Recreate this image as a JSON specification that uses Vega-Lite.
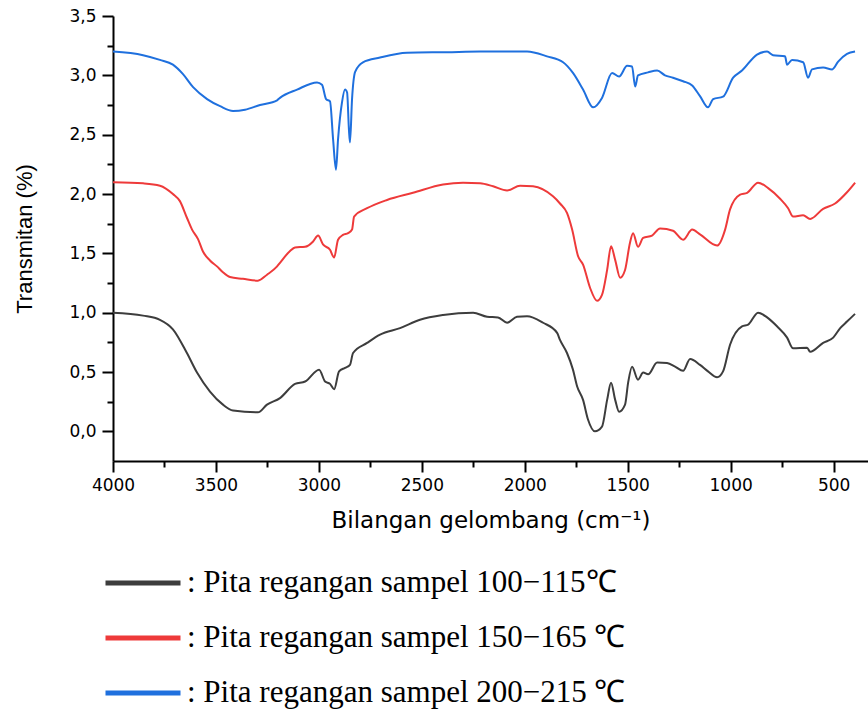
{
  "$schema": "https://vega.github.io/schema/vega-lite/v6.json",
  "width": 755,
  "height": 445,
  "autosize": {"type": "none"},
  "padding": {"left": 113, "top": 16, "right": 0, "bottom": 250},
  "background": "white",
  "config": {"view": {"stroke": null}, "font": "DejaVu Sans"},
  "data": {"values": [
    {"sampel":"200−215","wn":4000,"t":3.20},{"sampel":"200−215","wn":3854,"t":3.17},{"sampel":"200−215","wn":3772,"t":3.13},{"sampel":"200−215","wn":3709,"t":3.09},{"sampel":"200−215","wn":3660,"t":3.01},{"sampel":"200−215","wn":3611,"t":2.90},{"sampel":"200−215","wn":3543,"t":2.80},{"sampel":"200−215","wn":3480,"t":2.74},{"sampel":"200−215","wn":3417,"t":2.70},{"sampel":"200−215","wn":3359,"t":2.71},{"sampel":"200−215","wn":3286,"t":2.75},{"sampel":"200−215","wn":3203,"t":2.79},{"sampel":"200−215","wn":3189,"t":2.81},{"sampel":"200−215","wn":3106,"t":2.88},{"sampel":"200−215","wn":3009,"t":2.94},{"sampel":"200−215","wn":2985,"t":2.92},{"sampel":"200−215","wn":2965,"t":2.80},{"sampel":"200−215","wn":2946,"t":2.78},{"sampel":"200−215","wn":2931,"t":2.46},{"sampel":"200−215","wn":2917,"t":2.205},{"sampel":"200−215","wn":2907,"t":2.46},{"sampel":"200−215","wn":2888,"t":2.77},{"sampel":"200−215","wn":2873,"t":2.88},{"sampel":"200−215","wn":2863,"t":2.855},{"sampel":"200−215","wn":2854,"t":2.54},{"sampel":"200−215","wn":2849,"t":2.435},{"sampel":"200−215","wn":2839,"t":2.80},{"sampel":"200−215","wn":2824,"t":3.03},{"sampel":"200−215","wn":2786,"t":3.11},{"sampel":"200−215","wn":2703,"t":3.15},{"sampel":"200−215","wn":2572,"t":3.19},{"sampel":"200−215","wn":2378,"t":3.195},{"sampel":"200−215","wn":2217,"t":3.20},{"sampel":"200−215","wn":1989,"t":3.20},{"sampel":"200−215","wn":1892,"t":3.16},{"sampel":"200−215","wn":1814,"t":3.11},{"sampel":"200−215","wn":1766,"t":3.02},{"sampel":"200−215","wn":1717,"t":2.88},{"sampel":"200−215","wn":1668,"t":2.73},{"sampel":"200−215","wn":1625,"t":2.81},{"sampel":"200−215","wn":1576,"t":3.02},{"sampel":"200−215","wn":1542,"t":2.99},{"sampel":"200−215","wn":1503,"t":3.08},{"sampel":"200−215","wn":1479,"t":3.075},{"sampel":"200−215","wn":1464,"t":2.905},{"sampel":"200−215","wn":1450,"t":3.00},{"sampel":"200−215","wn":1401,"t":3.025},{"sampel":"200−215","wn":1357,"t":3.04},{"sampel":"200−215","wn":1319,"t":3.00},{"sampel":"200−215","wn":1280,"t":2.98},{"sampel":"200−215","wn":1231,"t":2.95},{"sampel":"200−215","wn":1187,"t":2.915},{"sampel":"200−215","wn":1149,"t":2.825},{"sampel":"200−215","wn":1110,"t":2.73},{"sampel":"200−215","wn":1085,"t":2.80},{"sampel":"200−215","wn":1037,"t":2.82},{"sampel":"200−215","wn":988,"t":2.98},{"sampel":"200−215","wn":945,"t":3.04},{"sampel":"200−215","wn":872,"t":3.175},{"sampel":"200−215","wn":823,"t":3.20},{"sampel":"200−215","wn":794,"t":3.17},{"sampel":"200−215","wn":736,"t":3.16},{"sampel":"200−215","wn":726,"t":3.09},{"sampel":"200−215","wn":702,"t":3.13},{"sampel":"200−215","wn":648,"t":3.11},{"sampel":"200−215","wn":624,"t":2.98},{"sampel":"200−215","wn":605,"t":3.05},{"sampel":"200−215","wn":551,"t":3.065},{"sampel":"200−215","wn":507,"t":3.05},{"sampel":"200−215","wn":478,"t":3.115},{"sampel":"200−215","wn":435,"t":3.18},{"sampel":"200−215","wn":396,"t":3.20},
    {"sampel":"150−165","wn":4000,"t":2.10},{"sampel":"150−165","wn":3854,"t":2.09},{"sampel":"150−165","wn":3772,"t":2.07},{"sampel":"150−165","wn":3709,"t":2.00},{"sampel":"150−165","wn":3675,"t":1.94},{"sampel":"150−165","wn":3641,"t":1.80},{"sampel":"150−165","wn":3616,"t":1.70},{"sampel":"150−165","wn":3587,"t":1.62},{"sampel":"150−165","wn":3563,"t":1.515},{"sampel":"150−165","wn":3529,"t":1.44},{"sampel":"150−165","wn":3495,"t":1.39},{"sampel":"150−165","wn":3466,"t":1.34},{"sampel":"150−165","wn":3432,"t":1.30},{"sampel":"150−165","wn":3369,"t":1.285},{"sampel":"150−165","wn":3296,"t":1.27},{"sampel":"150−165","wn":3252,"t":1.32},{"sampel":"150−165","wn":3203,"t":1.39},{"sampel":"150−165","wn":3189,"t":1.42},{"sampel":"150−165","wn":3140,"t":1.52},{"sampel":"150−165","wn":3116,"t":1.55},{"sampel":"150−165","wn":3067,"t":1.555},{"sampel":"150−165","wn":3028,"t":1.60},{"sampel":"150−165","wn":3004,"t":1.65},{"sampel":"150−165","wn":2980,"t":1.575},{"sampel":"150−165","wn":2946,"t":1.53},{"sampel":"150−165","wn":2926,"t":1.465},{"sampel":"150−165","wn":2907,"t":1.615},{"sampel":"150−165","wn":2883,"t":1.655},{"sampel":"150−165","wn":2858,"t":1.67},{"sampel":"150−165","wn":2839,"t":1.70},{"sampel":"150−165","wn":2829,"t":1.81},{"sampel":"150−165","wn":2766,"t":1.88},{"sampel":"150−165","wn":2669,"t":1.95},{"sampel":"150−165","wn":2543,"t":2.01},{"sampel":"150−165","wn":2397,"t":2.08},{"sampel":"150−165","wn":2300,"t":2.095},{"sampel":"150−165","wn":2217,"t":2.09},{"sampel":"150−165","wn":2154,"t":2.065},{"sampel":"150−165","wn":2086,"t":2.03},{"sampel":"150−165","wn":2023,"t":2.07},{"sampel":"150−165","wn":1960,"t":2.065},{"sampel":"150−165","wn":1863,"t":1.98},{"sampel":"150−165","wn":1829,"t":1.92},{"sampel":"150−165","wn":1795,"t":1.84},{"sampel":"150−165","wn":1770,"t":1.70},{"sampel":"150−165","wn":1741,"t":1.475},{"sampel":"150−165","wn":1717,"t":1.405},{"sampel":"150−165","wn":1683,"t":1.21},{"sampel":"150−165","wn":1649,"t":1.10},{"sampel":"150−165","wn":1625,"t":1.15},{"sampel":"150−165","wn":1600,"t":1.36},{"sampel":"150−165","wn":1581,"t":1.56},{"sampel":"150−165","wn":1561,"t":1.445},{"sampel":"150−165","wn":1537,"t":1.295},{"sampel":"150−165","wn":1513,"t":1.36},{"sampel":"150−165","wn":1489,"t":1.59},{"sampel":"150−165","wn":1474,"t":1.67},{"sampel":"150−165","wn":1450,"t":1.555},{"sampel":"150−165","wn":1425,"t":1.63},{"sampel":"150−165","wn":1382,"t":1.65},{"sampel":"150−165","wn":1343,"t":1.71},{"sampel":"150−165","wn":1280,"t":1.69},{"sampel":"150−165","wn":1231,"t":1.615},{"sampel":"150−165","wn":1187,"t":1.70},{"sampel":"150−165","wn":1149,"t":1.66},{"sampel":"150−165","wn":1066,"t":1.565},{"sampel":"150−165","wn":1027,"t":1.70},{"sampel":"150−165","wn":1003,"t":1.87},{"sampel":"150−165","wn":954,"t":1.995},{"sampel":"150−165","wn":920,"t":2.01},{"sampel":"150−165","wn":867,"t":2.095},{"sampel":"150−165","wn":818,"t":2.05},{"sampel":"150−165","wn":760,"t":1.96},{"sampel":"150−165","wn":721,"t":1.88},{"sampel":"150−165","wn":697,"t":1.81},{"sampel":"150−165","wn":648,"t":1.82},{"sampel":"150−165","wn":614,"t":1.79},{"sampel":"150−165","wn":551,"t":1.875},{"sampel":"150−165","wn":493,"t":1.92},{"sampel":"150−165","wn":435,"t":2.015},{"sampel":"150−165","wn":396,"t":2.095},
    {"sampel":"100−115","wn":4000,"t":1.00},{"sampel":"100−115","wn":3854,"t":0.975},{"sampel":"100−115","wn":3772,"t":0.94},{"sampel":"100−115","wn":3709,"t":0.86},{"sampel":"100−115","wn":3641,"t":0.66},{"sampel":"100−115","wn":3592,"t":0.495},{"sampel":"100−115","wn":3529,"t":0.335},{"sampel":"100−115","wn":3466,"t":0.225},{"sampel":"100−115","wn":3417,"t":0.175},{"sampel":"100−115","wn":3296,"t":0.16},{"sampel":"100−115","wn":3252,"t":0.225},{"sampel":"100−115","wn":3189,"t":0.28},{"sampel":"100−115","wn":3116,"t":0.40},{"sampel":"100−115","wn":3067,"t":0.42},{"sampel":"100−115","wn":2999,"t":0.52},{"sampel":"100−115","wn":2970,"t":0.42},{"sampel":"100−115","wn":2946,"t":0.40},{"sampel":"100−115","wn":2926,"t":0.355},{"sampel":"100−115","wn":2902,"t":0.505},{"sampel":"100−115","wn":2873,"t":0.535},{"sampel":"100−115","wn":2849,"t":0.56},{"sampel":"100−115","wn":2834,"t":0.66},{"sampel":"100−115","wn":2766,"t":0.745},{"sampel":"100−115","wn":2703,"t":0.815},{"sampel":"100−115","wn":2606,"t":0.87},{"sampel":"100−115","wn":2509,"t":0.94},{"sampel":"100−115","wn":2397,"t":0.98},{"sampel":"100−115","wn":2251,"t":1.00},{"sampel":"100−115","wn":2183,"t":0.965},{"sampel":"100−115","wn":2130,"t":0.96},{"sampel":"100−115","wn":2086,"t":0.915},{"sampel":"100−115","wn":2038,"t":0.965},{"sampel":"100−115","wn":1989,"t":0.97},{"sampel":"100−115","wn":1911,"t":0.915},{"sampel":"100−115","wn":1843,"t":0.83},{"sampel":"100−115","wn":1829,"t":0.77},{"sampel":"100−115","wn":1795,"t":0.66},{"sampel":"100−115","wn":1766,"t":0.52},{"sampel":"100−115","wn":1746,"t":0.38},{"sampel":"100−115","wn":1717,"t":0.265},{"sampel":"100−115","wn":1693,"t":0.10},{"sampel":"100−115","wn":1659,"t":0.00},{"sampel":"100−115","wn":1625,"t":0.04},{"sampel":"100−115","wn":1600,"t":0.265},{"sampel":"100−115","wn":1581,"t":0.41},{"sampel":"100−115","wn":1561,"t":0.265},{"sampel":"100−115","wn":1542,"t":0.165},{"sampel":"100−115","wn":1513,"t":0.225},{"sampel":"100−115","wn":1498,"t":0.41},{"sampel":"100−115","wn":1479,"t":0.545},{"sampel":"100−115","wn":1450,"t":0.435},{"sampel":"100−115","wn":1425,"t":0.495},{"sampel":"100−115","wn":1401,"t":0.48},{"sampel":"100−115","wn":1357,"t":0.58},{"sampel":"100−115","wn":1309,"t":0.575},{"sampel":"100−115","wn":1270,"t":0.545},{"sampel":"100−115","wn":1231,"t":0.51},{"sampel":"100−115","wn":1197,"t":0.61},{"sampel":"100−115","wn":1149,"t":0.56},{"sampel":"100−115","wn":1110,"t":0.505},{"sampel":"100−115","wn":1066,"t":0.455},{"sampel":"100−115","wn":1037,"t":0.505},{"sampel":"100−115","wn":1003,"t":0.73},{"sampel":"100−115","wn":945,"t":0.885},{"sampel":"100−115","wn":915,"t":0.90},{"sampel":"100−115","wn":867,"t":1.00},{"sampel":"100−115","wn":823,"t":0.96},{"sampel":"100−115","wn":775,"t":0.885},{"sampel":"100−115","wn":726,"t":0.79},{"sampel":"100−115","wn":697,"t":0.70},{"sampel":"100−115","wn":629,"t":0.705},{"sampel":"100−115","wn":614,"t":0.67},{"sampel":"100−115","wn":551,"t":0.745},{"sampel":"100−115","wn":502,"t":0.79},{"sampel":"100−115","wn":468,"t":0.87},{"sampel":"100−115","wn":435,"t":0.925},{"sampel":"100−115","wn":396,"t":0.99}
  ]},
  "layer": [
    {
      "mark": {"type": "line", "strokeWidth": 2, "interpolate": "monotone"},
      "encoding": {
        "x": {
          "field": "wn", "type": "quantitative",
          "scale": {"domain": [4000, 333], "nice": false, "zero": false},
          "axis": {
            "values": [4000, 3500, 3000, 2500, 2000, 1500, 1000, 500],
            "orient": "bottom",
            "grid": false, "tickSize": 11, "tickWidth": 2, "tickColor": "black",
            "domainWidth": 2, "domainColor": "black",
            "labelFont": "DejaVu Sans", "labelFontSize": 17, "labelColor": "black", "labelPadding": 5, "labelFlush": false, "format": "d",
            "title": "Bilangan gelombang (cm⁻¹)", "titleFont": "DejaVu Sans", "titleFontSize": 23, "titleFontWeight": "normal", "titleColor": "black", "titlePadding": 16
          }
        },
        "y": {
          "field": "t", "type": "quantitative",
          "scale": {"domain": [-0.25, 3.5], "nice": false, "zero": false},
          "axis": {
            "values": [0, 0.5, 1, 1.5, 2, 2.5, 3, 3.5],
            "orient": "left",
            "grid": false, "tickSize": 11, "tickWidth": 2, "tickColor": "black",
            "domainWidth": 2, "domainColor": "black",
            "labelFont": "DejaVu Sans", "labelFontSize": 17, "labelColor": "black", "labelPadding": 6,
            "labelExpr": "replace(format(datum.value, '.1f'), '.', ',')",
            "title": "Transmitan (%)", "titleFont": "Liberation Sans", "titleFontSize": 22, "titleFontWeight": "normal", "titleColor": "black", "titlePadding": 32
          }
        },
        "color": {
          "field": "sampel", "type": "nominal",
          "scale": {"domain": ["100−115", "150−165", "200−215"], "range": ["#3d3d3d", "#ee3a3a", "#1f70de"]},
          "legend": {
            "orient": "none", "legendX": -10, "legendY": 553, "direction": "vertical",
            "title": null, "padding": 0,
            "symbolType": "stroke", "symbolSize": 5625, "symbolStrokeWidth": 5,
            "clipHeight": 28, "rowPadding": 24,
            "labelFont": "Liberation Serif", "labelFontSize": 31, "labelColor": "black", "labelLimit": 0, "labelOffset": 4,
            "labelExpr": "': Pita regangan sampel ' + datum.label + (datum.label == '100−115' ? '℃' : ' ℃')"
          }
        }
      }
    },
    {
      "mark": {"type": "point", "opacity": 0},
      "encoding": {
        "x": {
          "field": "wn", "type": "quantitative",
          "axis": {"values": [3750, 3250, 2750, 2250, 1750, 1250, 750], "orient": "bottom", "labels": false, "domain": false, "grid": false, "title": null, "tickSize": 6, "tickWidth": 2, "tickColor": "black"}
        },
        "y": {
          "field": "t", "type": "quantitative",
          "axis": {"values": [0.25, 0.75, 1.25, 1.75, 2.25, 2.75, 3.25], "orient": "left", "labels": false, "domain": false, "grid": false, "title": null, "tickSize": 6, "tickWidth": 2, "tickColor": "black"}
        }
      }
    }
  ],
  "resolve": {"axis": {"x": "independent", "y": "independent"}}
}
